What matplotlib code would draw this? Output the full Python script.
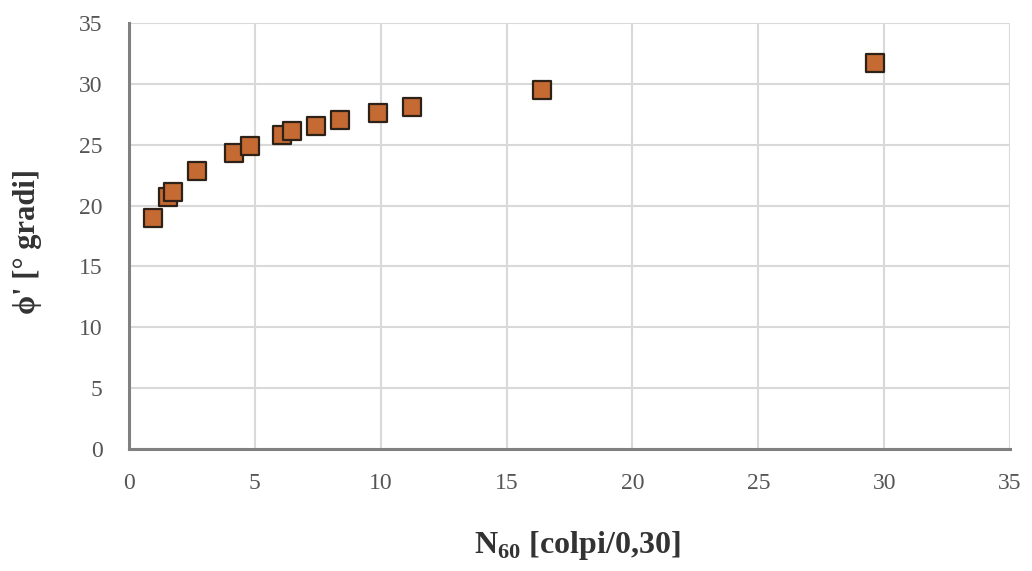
import matplotlib
matplotlib.use("Agg")
import matplotlib.pyplot as plt

# SPT blow counts and corresponding friction angle
n60 = [0.95, 1.55, 1.75, 2.70, 4.17, 4.81, 6.08, 6.48, 7.43, 8.38, 9.89, 11.24, 16.41, 29.64]
phi = [19.0, 20.7, 21.1, 22.8, 24.3, 24.9, 25.8, 26.1, 26.5, 27.0, 27.6, 28.1, 29.5, 31.7]

x_ticks = [0, 5, 10, 15, 20, 25, 30, 35]
y_ticks = [0, 5, 10, 15, 20, 25, 30, 35]

plt.rcParams['font.family'] = ['Liberation Serif', 'DejaVu Serif']

fig = plt.figure(figsize=(10.32, 5.71), dpi=100)
ax = fig.add_axes([0.125, 0.2137, 0.8537, 0.746])

ax.scatter(n60, phi, marker='s', s=165, facecolor='#c46a32', edgecolor='#2e2118',
           linewidth=1.6, zorder=3)

ax.set_xlim(0, 35)
ax.set_ylim(0, 35)
ax.set_xticks(x_ticks)
ax.set_yticks(y_ticks)
ax.grid(True, color='#d9d9d9', linewidth=1.5, zorder=0)
ax.set_axisbelow(True)

for side in ('top', 'right'):
    ax.spines[side].set_visible(False)
for side in ('left', 'bottom'):
    ax.spines[side].set_color('#808080')
    ax.spines[side].set_linewidth(2.2)

ax.tick_params(axis='both', length=0, labelsize=17, labelcolor='#555555')
ax.tick_params(axis='x', pad=17)
ax.tick_params(axis='y', pad=19)

ax.set_xlabel(r"N$_{\mathregular{60}}$ [colpi/0,30]", fontsize=23, fontweight='bold',
              color='#333333')
ax.set_ylabel("ϕ' [° gradi]", fontsize=22, fontweight='bold', color='#333333')
ax.xaxis.set_label_coords(577 / 1032, (571 - 545) / 571, transform=fig.transFigure)
ax.yaxis.set_label_coords(28 / 1032, (571 - 242) / 571, transform=fig.transFigure)
ax.xaxis.label.set_va('center')
ax.yaxis.label.set_va('center')

fig.savefig("out.png", dpi=100, facecolor='white')
